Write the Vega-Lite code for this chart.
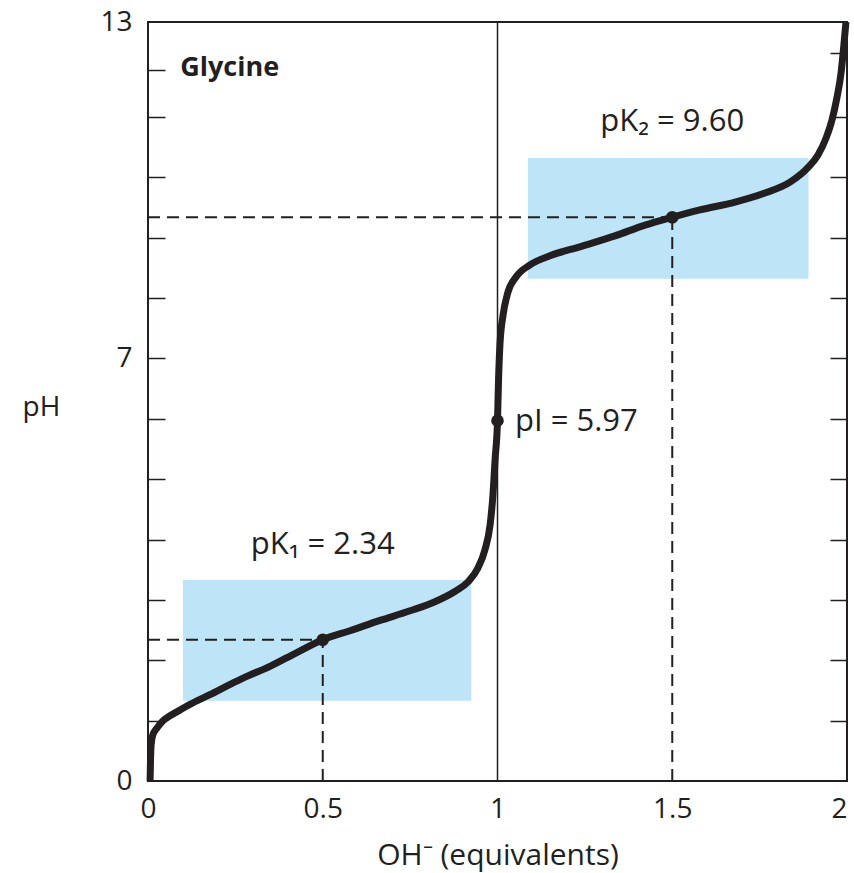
{
  "$schema": "https://vega.github.io/schema/vega-lite/v6.json",
  "width": 699,
  "height": 759,
  "autosize": "none",
  "padding": {"left": 148, "top": 22, "right": 7, "bottom": 92},
  "background": "white",
  "config": {
    "font": "Open Sans",
    "view": {"stroke": "#231f20", "strokeWidth": 2},
    "axis": {"labelColor": "#231f20", "titleColor": "#231f20", "labelFont": "Open Sans", "titleFont": "Open Sans", "labelFontSize": 28, "titleFontSize": 28, "titleFontWeight": "normal", "grid": false, "domain": false, "tickColor": "#231f20", "tickWidth": 1.5, "labelOverlap": false}
  },
  "datasets": {
    "boxes": [
      {"x": 0.1, "x2": 0.925, "y": 1.33, "y2": 3.33},
      {"x": 1.087, "x2": 1.89, "y": 8.32, "y2": 10.32}
    ],
    "vline": [{"x": 1}],
    "dashes": [
      {"x": 0, "x2": 0.5, "y": 2.34, "y2": 2.34},
      {"x": 0.5, "x2": 0.5, "y": 0, "y2": 2.34},
      {"x": 0, "x2": 1.5, "y": 9.34, "y2": 9.34},
      {"x": 1.5, "x2": 1.5, "y": 0, "y2": 9.34}
    ],
    "curve": [
      {"x": 0.006, "y": 0.0}, {"x": 0.007, "y": 0.3}, {"x": 0.009, "y": 0.6}, {"x": 0.013, "y": 0.75},
      {"x": 0.026, "y": 0.88}, {"x": 0.043, "y": 1.0}, {"x": 0.063, "y": 1.08}, {"x": 0.09, "y": 1.17},
      {"x": 0.12, "y": 1.27}, {"x": 0.177, "y": 1.43}, {"x": 0.235, "y": 1.6}, {"x": 0.278, "y": 1.72},
      {"x": 0.349, "y": 1.9}, {"x": 0.423, "y": 2.12}, {"x": 0.5, "y": 2.34}, {"x": 0.578, "y": 2.49},
      {"x": 0.664, "y": 2.66}, {"x": 0.75, "y": 2.82}, {"x": 0.821, "y": 2.97}, {"x": 0.878, "y": 3.14},
      {"x": 0.916, "y": 3.3}, {"x": 0.944, "y": 3.53}, {"x": 0.964, "y": 3.83}, {"x": 0.979, "y": 4.25},
      {"x": 0.987, "y": 4.74}, {"x": 0.993, "y": 5.32}, {"x": 1.0, "y": 5.97}, {"x": 1.003, "y": 6.65},
      {"x": 1.007, "y": 7.23}, {"x": 1.016, "y": 7.72}, {"x": 1.03, "y": 8.1}, {"x": 1.053, "y": 8.35},
      {"x": 1.093, "y": 8.55}, {"x": 1.15, "y": 8.7}, {"x": 1.236, "y": 8.85}, {"x": 1.336, "y": 9.03},
      {"x": 1.422, "y": 9.21}, {"x": 1.5, "y": 9.34}, {"x": 1.579, "y": 9.46}, {"x": 1.68, "y": 9.59},
      {"x": 1.765, "y": 9.74}, {"x": 1.837, "y": 9.92}, {"x": 1.888, "y": 10.16}, {"x": 1.917, "y": 10.37},
      {"x": 1.94, "y": 10.65}, {"x": 1.957, "y": 10.95}, {"x": 1.971, "y": 11.4}, {"x": 1.983, "y": 11.93},
      {"x": 1.991, "y": 12.51}, {"x": 1.997, "y": 13.0}
    ],
    "dots": [
      {"x": 0.5, "y": 2.34}, {"x": 1.0, "y": 5.97}, {"x": 1.5, "y": 9.34}
    ],
    "labelsCenter": [
      {"label": "pK₁ = 2.34", "x": 0.5, "y": 3.91},
      {"label": "pK₂ = 9.60", "x": 1.5, "y": 10.92}
    ],
    "labelsLeft": [
      {"label": "pI = 5.97", "x": 1.05, "y": 5.95}
    ],
    "titleText": [
      {"label": "Glycine", "x": 0.092, "y": 12.03}
    ]
  },
  "layer": [
    {
      "data": {"name": "boxes"},
      "mark": {"type": "rect", "color": "#bde4f7"},
      "encoding": {
        "x": {"field": "x", "type": "quantitative", "scale": {"domain": [0, 2], "nice": false, "zero": false}, "axis": null},
        "x2": {"field": "x2"},
        "y": {"field": "y", "type": "quantitative", "scale": {"domain": [0, 11, 13], "range": [759, 95, 0], "nice": false, "zero": false},
          "axis": {"orient": "left", "values": [0, 7, 13], "ticks": false, "tickSize": 0, "labelPadding": 16,
            "title": "pH", "titleAngle": 0, "titleAlign": "left", "titleBaseline": "alphabetic", "titleX": -126, "titleY": 393}},
        "y2": {"field": "y2"}
      }
    },
    {
      "data": {"name": "vline"},
      "mark": {"type": "rule", "color": "#231f20", "strokeWidth": 1.5},
      "encoding": {
        "x": {"field": "x", "type": "quantitative", "axis": null}
      }
    },
    {
      "data": {"name": "dashes"},
      "mark": {"type": "rule", "color": "#231f20", "strokeWidth": 2, "strokeDash": [12, 7]},
      "encoding": {
        "x": {"field": "x", "type": "quantitative", "axis": null},
        "x2": {"field": "x2"},
        "y": {"field": "y", "type": "quantitative", "scale": {"domain": [0, 11, 13], "range": [759, 95, 0], "nice": false, "zero": false},
          "axis": {"orient": "left", "values": [1, 2, 3, 4, 5, 6, 7, 8, 9, 10, 11, 12], "labels": false, "ticks": true, "tickSize": -17, "title": null}},
        "y2": {"field": "y2"}
      }
    },
    {
      "data": {"name": "curve"},
      "mark": {"type": "line", "color": "#231f20", "strokeWidth": 7, "interpolate": "monotone"},
      "encoding": {
        "x": {"field": "x", "type": "quantitative", "scale": {"domain": [0, 2], "nice": false, "zero": false},
          "axis": {"orient": "bottom", "values": [0, 0.5, 1, 1.5, 2], "format": "~g", "ticks": false, "tickSize": 0, "labelPadding": 14, "labelFlush": false,
            "labelAlign": {"condition": {"test": "datum.value == 2", "value": "right"}, "value": "center"},
            "title": "OH⁻ (equivalents)", "titleFontSize": 30, "titleY": 83, "titleBaseline": "alphabetic"}},
        "y": {"field": "y", "type": "quantitative", "scale": {"domain": [0, 11, 13], "range": [759, 95, 0], "nice": false, "zero": false},
          "axis": {"orient": "right", "values": [1, 2, 3, 4, 5, 6, 7, 8, 9, 10, 11, 12.35], "labels": false, "ticks": true, "tickSize": -17, "title": null}}
      }
    },
    {
      "data": {"name": "dots"},
      "mark": {"type": "point", "filled": true, "color": "#231f20", "size": 160, "opacity": 1},
      "encoding": {
        "x": {"field": "x", "type": "quantitative", "axis": null},
        "y": {"field": "y", "type": "quantitative", "axis": null}
      }
    },
    {
      "data": {"name": "labelsCenter"},
      "mark": {"type": "text", "align": "center", "baseline": "middle", "fontSize": 31, "color": "#231f20"},
      "encoding": {
        "x": {"field": "x", "type": "quantitative", "axis": null},
        "y": {"field": "y", "type": "quantitative", "axis": null},
        "text": {"field": "label"}
      }
    },
    {
      "data": {"name": "labelsLeft"},
      "mark": {"type": "text", "align": "left", "baseline": "middle", "fontSize": 31, "color": "#231f20"},
      "encoding": {
        "x": {"field": "x", "type": "quantitative", "axis": null},
        "y": {"field": "y", "type": "quantitative", "axis": null},
        "text": {"field": "label"}
      }
    },
    {
      "data": {"name": "titleText"},
      "mark": {"type": "text", "align": "left", "baseline": "middle", "fontSize": 27, "fontWeight": "bold", "color": "#231f20"},
      "encoding": {
        "x": {"field": "x", "type": "quantitative", "axis": null},
        "y": {"field": "y", "type": "quantitative", "axis": null},
        "text": {"field": "label"}
      }
    }
  ],
  "resolve": {"axis": {"x": "independent", "y": "independent"}}
}
